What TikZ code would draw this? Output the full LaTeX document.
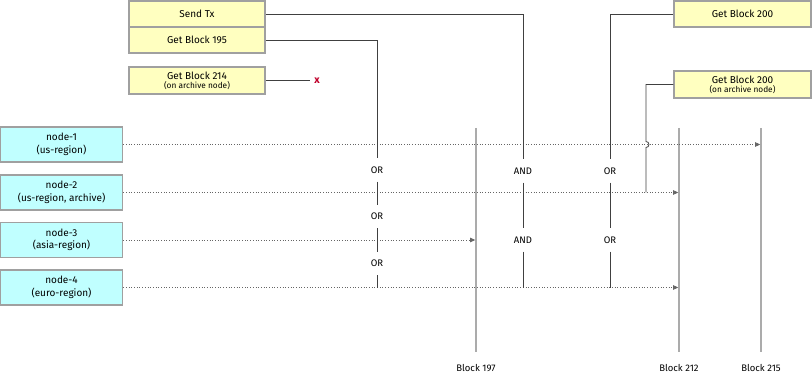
\documentclass[tikz,border=0pt]{standalone}
\usepackage{fontspec}
\setmainfont{Fira Sans}
\usetikzlibrary{arrows.meta}
\definecolor{reqfill}{HTML}{FFFFC0}
\definecolor{nodefill}{HTML}{C0FFFF}
\definecolor{boxborder}{HTML}{A0A0A0}
\definecolor{wirecol}{HTML}{404040}
\definecolor{errred}{HTML}{C0002A}
\tikzset{
    request/.style={draw=boxborder, fill=reqfill, line width=1.5pt, minimum width=136pt, minimum height=26pt, inner sep=0pt, align=center, font=\fontsize{10}{10}\selectfont},
    server/.style={draw=boxborder, fill=nodefill, line width=1.5pt, minimum width=122pt, minimum height=35pt, inner sep=0pt, align=center, font=\fontsize{10}{12.5}\selectfont},
    wire/.style={draw=wirecol, line width=0.8pt},
    probe/.style={draw=black!60, dotted, line width=0.7pt, -{Triangle[length=5pt, width=4.5pt]}},
    blockline/.style={draw=black!33, line width=1.6pt},
    gate/.style={font=\fontsize{9.5}{10}\selectfont, inner sep=0pt, minimum height=23pt},
    common settings/.style={x=1pt, y=-1pt}
}
\newcommand{\subtxt}[1]{\\[-1pt]{\fontsize{8.3}{9}\selectfont #1}}

\begin{document}
\begin{tikzpicture}[common settings]
    \useasboundingbox (0,0) rectangle (812,377);

    % 1. Block lines
    \foreach \name/\x/\num in {b197/476/197, b212/679/212, b215/761/215} {
        \coordinate (\name top) at (\x,128);
        \coordinate (\name bot) at (\x,352);
        \draw[blockline] (\name top) -- (\name bot);
        \node[font=\fontsize{9.5}{10}\selectfont] (\name lbl) at (\x,368) {Block \num};
    }

    % 2. Servers
    \node[server] (node1) at (61.5,144.5) {node-1\\(us-region)};
    \node[server] (node2) at (61.5,192.5) {node-2\\(us-region, archive)};
    \node[server] (node3) at (61.5,240) {node-3\\(asia-region)};
    \node[server] (node4) at (61.5,287.5) {node-4\\(euro-region)};

    % 3. Requests
    \node[request] (sendtx) at (197,14) {Send Tx};
    \node[request] (blk195) at (197,40) {Get Block 195};
    \node[request, minimum height=27pt] (blk214) at (197,80.5) {Get Block 214\subtxt{(on archive node)}};
    \node[request, minimum width=137pt] (blk200) at (742.5,14) {Get Block 200};
    \node[request, minimum width=137pt, minimum height=27pt] (blk200a) at (742.5,84.5) {Get Block 200\subtxt{(on archive node)}};

    % 4. Sync state of each server
    \draw[probe] (node1.east) -- ([xshift=-0.8pt]b215top |- node1.east);
    \draw[probe] (node2.east) -- ([xshift=-0.8pt]b212top |- node2.east);
    \draw[probe] (node3.east) -- ([xshift=-0.8pt]b197top |- node3.east);
    \draw[probe] (node4.east) -- ([xshift=-0.8pt]b212top |- node4.east);

    % 5. Gates
    \node[gate] (or1) at (377,170) {OR};
    \node[gate] (or2) at (377,216.5) {OR};
    \node[gate] (or3) at (377,263.5) {OR};
    \node[gate] (and1) at (523,171) {AND};
    \node[gate] (and2) at (523,240) {AND};
    \node[gate] (or4) at (610,171) {OR};
    \node[gate] (or5) at (610,240) {OR};

    % 6. Routing of the requests
    \draw[wire] (blk195.east) -| (or1.north);
    \draw[wire] (or1.south) -- (or2.north);
    \draw[wire] (or2.south) -- (or3.north);
    \draw[wire] (or3.south) -- (or3 |- node4.east);

    \draw[wire] (sendtx.east) -| (and1.north);
    \draw[wire] (and1.south) -- (and2.north);
    \draw[wire] (and2.south) -- (and2 |- node4.east);

    \draw[wire] (blk200.west) -| (or4.north);
    \draw[wire] (or4.south) -- (or5.north);
    \draw[wire] (or5.south) -- (or5 |- node4.east);

    \coordinate (hop) at (646,144.5);
    \draw[wire] (blk200a.west) -| ([yshift=3pt]hop)
        arc[start angle=-90, end angle=90, radius=3] -- (hop |- node2.east);

    % 7. Rejected request
    \coordinate (fail) at (310,80.5);
    \draw[wire] (blk214.east) -- (fail);
    \node[errred, font=\bfseries\fontsize{10.5}{11}\selectfont, inner sep=0pt] (failmark) at (317,80.5) {x};

\end{tikzpicture}
\end{document}
